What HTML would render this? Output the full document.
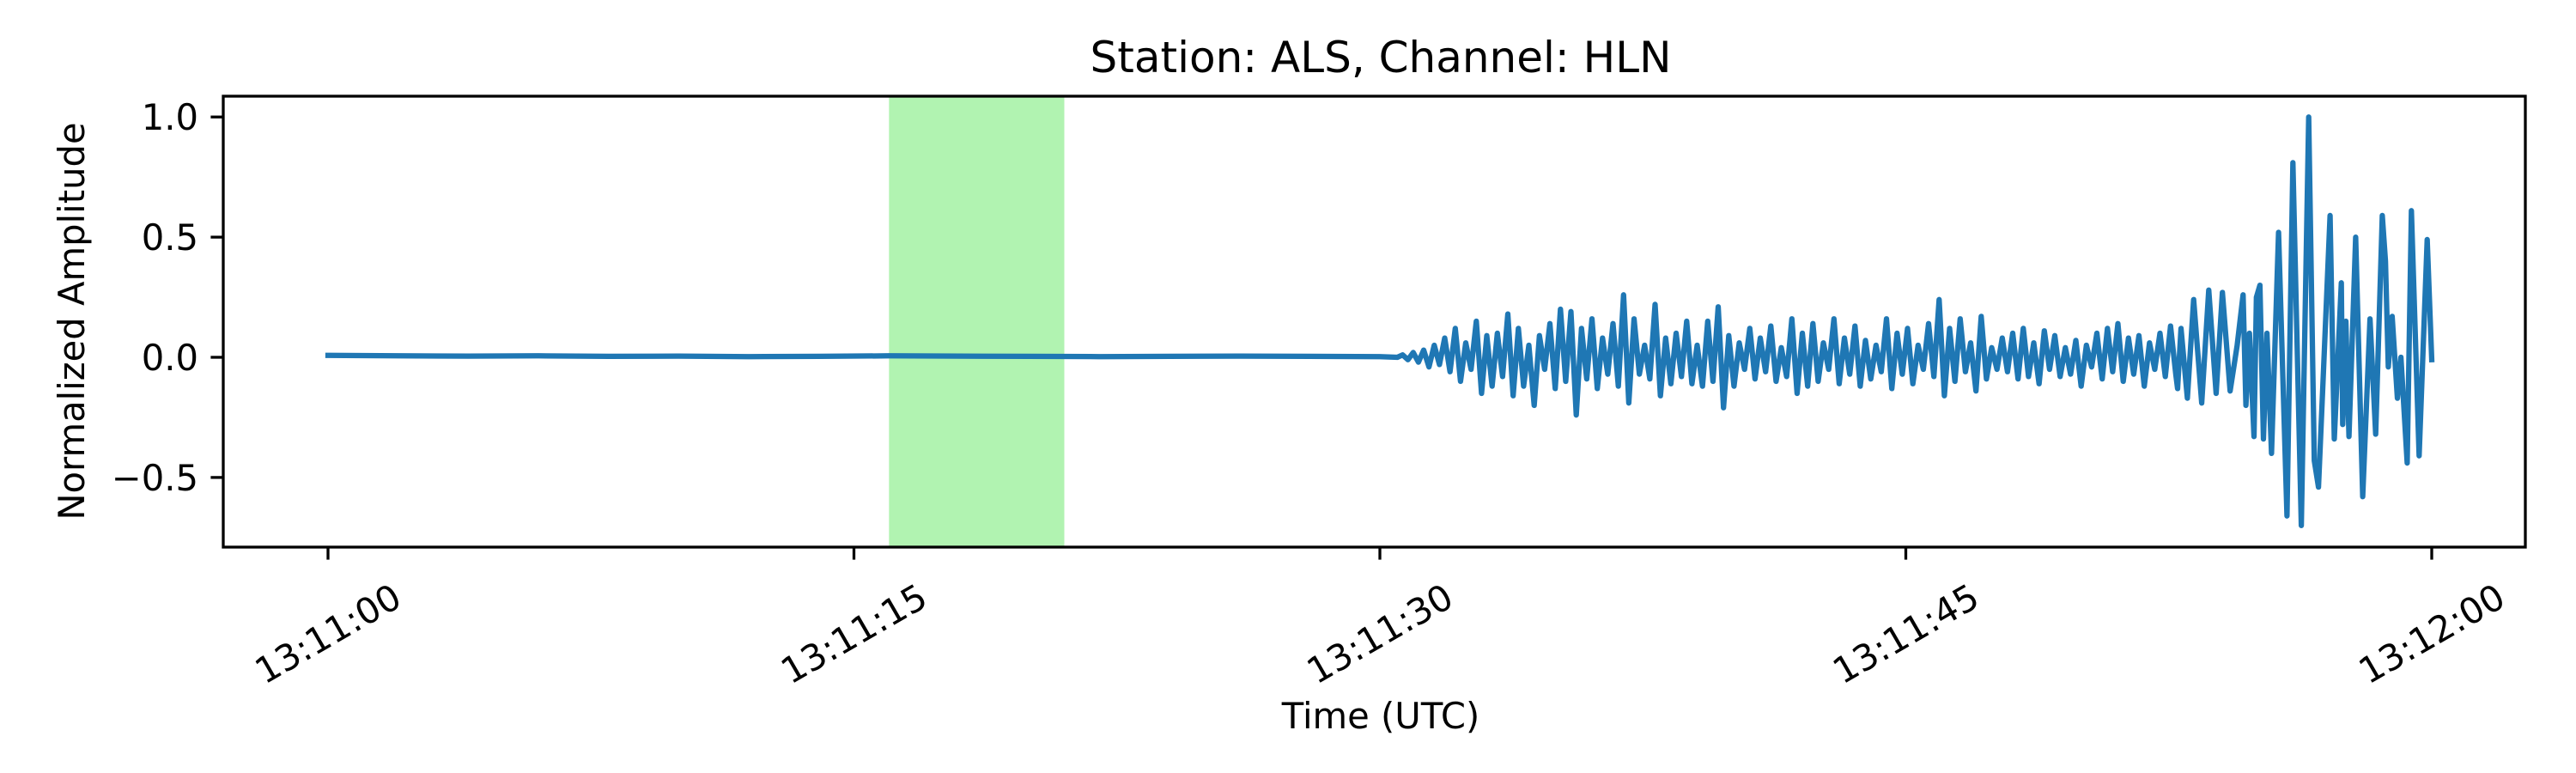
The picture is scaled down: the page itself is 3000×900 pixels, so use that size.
<!DOCTYPE html>
<html><head><meta charset="utf-8"><style>
html,body{margin:0;padding:0;background:#fff;}
svg{display:block;font-family:"DejaVu Sans","Liberation Sans",sans-serif;}
</style></head><body>
<svg id="chart" width="3000" height="900" viewBox="0 0 3000 900" xmlns="http://www.w3.org/2000/svg">
<rect width="3000" height="900" fill="#fff"/>
<text x="1608" y="84" font-size="50" text-anchor="middle">Station: ALS, Channel: HLN</text>
<g id="plot"></g>
<text x="1608" y="848" font-size="41.7" text-anchor="middle">Time (UTC)</text>
<text x="0" y="0" font-size="41.7" text-anchor="middle" transform="translate(98,374) rotate(-90)">Normalized Amplitude</text>
</svg>
<script>
const xTickSeconds=[0,15,30,45,60];
const xTickLabels=["13:11:00","13:11:15","13:11:30","13:11:45","13:12:00"];
const yTickValues=[-0.5,0,0.5,1.0];
const yTickLabels=["\u22120.5","0.0","0.5","1.0"];
const spanStart=16.0, spanEnd=21.0;
const quietStart=0, quietStep=2;
const quietValues=[0.008,0.006,0.005,0.006,0.004,0.005,0.003,0.004,0.006,0.005,0.004,0.003,0.004,0.005,0.004,0.003];
const noiseStart=30.5, noiseStep=0.15;
const noiseValues=[0.00,0.01,-0.01,0.02,-0.02,0.03,-0.04,0.05,-0.03,0.08,-0.06,0.12,-0.10,0.06,-0.05,0.15,-0.15,0.09,-0.12,0.10,-0.08,0.18,-0.16,0.12,-0.12,0.05,-0.20,0.09,-0.05,0.14,-0.13,0.20,-0.10,0.19,-0.24,0.12,-0.09,0.16,-0.13,0.08,-0.07,0.14,-0.12,0.26,-0.19,0.16,-0.07,0.05,-0.09,0.22,-0.16,0.08,-0.11,0.10,-0.08,0.15,-0.11,0.05,-0.12,0.15,-0.10,0.21,-0.21,0.09,-0.12,0.06,-0.05,0.12,-0.09,0.08,-0.06,0.13,-0.10,0.04,-0.08,0.16,-0.15,0.10,-0.12,0.14,-0.10,0.06,-0.05,0.16,-0.11,0.08,-0.07,0.13,-0.12,0.07,-0.09,0.05,-0.06,0.16,-0.13,0.10,-0.07,0.12,-0.11,0.05,-0.05,0.14,-0.08,0.24,-0.16,0.12,-0.10,0.16,-0.06,0.06,-0.14,0.17,-0.09,0.04,-0.05,0.08,-0.06,0.10,-0.09,0.12,-0.08,0.06,-0.11,0.11,-0.05,0.09,-0.08,0.04,-0.07,0.07,-0.12,0.05,-0.04,0.10,-0.09,0.12,-0.06,0.14,-0.10,0.08,-0.07,0.09,-0.12,0.06,-0.05,0.10,-0.08,0.13,-0.07,0.12];
const codaTimes=[52.75,53.03,53.21,53.44,53.64,53.85,54.03,54.25,54.45,54.62,54.7,54.8,54.93,55.0,55.1,55.2,55.3,55.43,55.63,55.87,56.04,56.28,56.49,56.65,56.77,56.9,57.1,57.22,57.42,57.46,57.55,57.64,57.83,58.03,58.24,58.4,58.59,58.68,58.76,58.87,59.02,59.12,59.3,59.42,59.64,59.87,60.0];
const codaValues=[-0.13,-0.17,0.24,-0.19,0.28,-0.15,0.27,-0.14,0.05,0.26,-0.20,0.10,-0.33,0.25,0.30,-0.34,0.10,-0.40,0.52,-0.66,0.81,-0.70,1.0,-0.43,-0.54,-0.10,0.59,-0.34,0.31,-0.28,0.15,-0.33,0.50,-0.58,0.16,-0.32,0.59,0.40,-0.04,0.17,-0.17,0.00,-0.44,0.61,-0.41,0.49,-0.01];

const L=260,R=2941,T=112,B=637;
const xs=s=>382+(s/60)*(2832-382);
const ys=v=>416-v*279.8;
const NS="http://www.w3.org/2000/svg";
const g=document.getElementById('plot');
function mk(tag,attrs){const e=document.createElementNS(NS,tag);for(const k in attrs)e.setAttribute(k,attrs[k]);g.appendChild(e);return e;}

const span=mk('rect',{x:xs(spanStart),y:T,width:xs(spanEnd)-xs(spanStart),height:B-T,fill:'#b1f3b1'});



const pts=[];
quietValues.forEach((v,i)=>pts.push([quietStart+i*quietStep,v]));
noiseValues.forEach((v,i)=>pts.push([noiseStart+i*noiseStep,v]));
codaTimes.forEach((t,i)=>pts.push([t,codaValues[i]]));
pts.sort((a,b)=>a[0]-b[0]);
const d=pts.map((p,i)=>(i?'L':'M')+xs(p[0]).toFixed(1)+' '+ys(p[1]).toFixed(1)).join(' ');
const line=mk('path',{d:d,fill:'none',stroke:'#1f77b4','stroke-width':6.25,'stroke-linejoin':'round','stroke-linecap':'square'});



const frame=mk('rect',{x:L,y:T,width:R-L,height:B-T,fill:'none',stroke:'#000','stroke-width':3.3});



xTickSeconds.forEach((s,i)=>{
  const x=xs(s);
  const tk=mk('line',{x1:x,x2:x,y1:B,y2:B+14.6,stroke:'#000','stroke-width':3.3});
  
  
  const tx=mk('text',{x:0,y:0,'font-size':41.7,'text-anchor':'middle','dominant-baseline':'central',transform:`translate(${x},738) rotate(-30)`});
  tx.textContent=xTickLabels[i];
  
  
});
yTickValues.forEach((v,i)=>{
  const y=ys(v);
  const tk=mk('line',{x1:L-14.6,x2:L,y1:y,y2:y,stroke:'#000','stroke-width':3.3});
  
  
  const tx=mk('text',{x:L-29,y:y+15,'font-size':41.7,'text-anchor':'end'});
  tx.textContent=yTickLabels[i];
  
  
});
</script>
</body></html>
